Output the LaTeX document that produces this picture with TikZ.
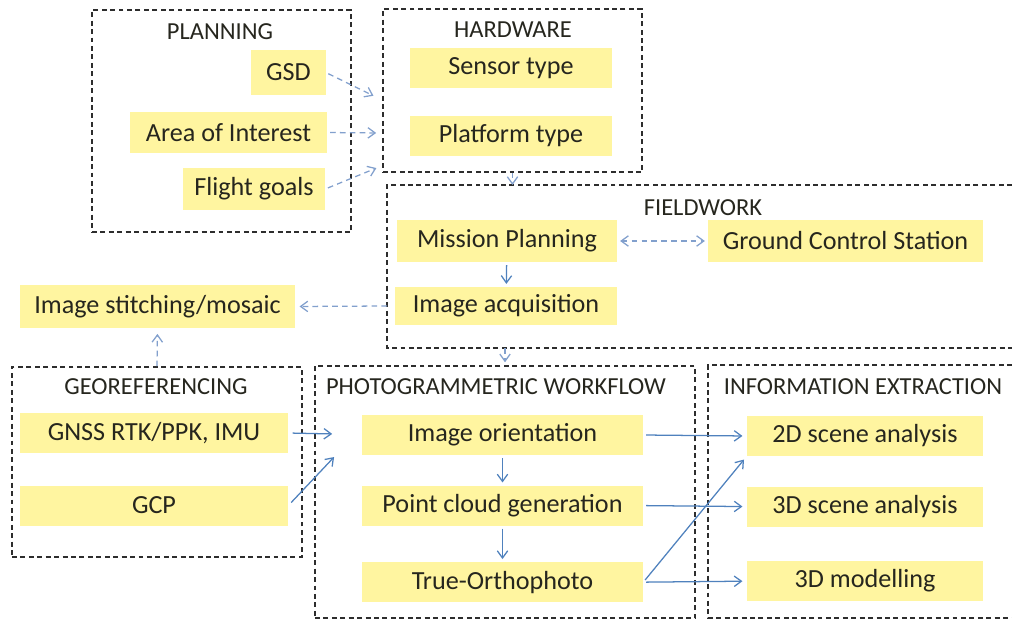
\documentclass[tikz,border=0pt]{standalone}
\usepackage{fontspec}
\setmainfont{Carlito}
\usetikzlibrary{arrows.meta, positioning}

\definecolor{boxyellow}{RGB}{255,245,160}
\definecolor{arrowblue}{RGB}{79,129,189}
\definecolor{dashblue}{RGB}{130,160,205}
\definecolor{textdark}{RGB}{38,38,30}
\definecolor{framegray}{RGB}{45,45,45}

\begin{document}
\begin{tikzpicture}[
		x=0.025cm, y=-0.025cm,
		itembox/.style={rectangle, fill=boxyellow, text=textdark, inner sep=0pt, minimum height=1cm, font=\fontsize{18.6}{22}\selectfont},
		groupbox/.style={rectangle, draw=framegray, line width=1.2pt, dash pattern=on 3.5pt off 2.5pt, inner sep=0pt},
		frame/.style={draw=framegray, line width=1.2pt, dash pattern=on 3.5pt off 2.5pt},
		grouptitle/.style={text=textdark, inner sep=0pt, font=\fontsize{17.4}{20}\selectfont},
		link/.style={->, >={Straight Barb[length=1.8mm, width=2.6mm]}, draw=arrowblue, line width=0.9pt, shorten >=2pt, shorten <=2pt},
		dashed link/.style={link, draw=dashblue, dash pattern=on 4pt off 3pt}
		]
		\useasboundingbox (0,0) rectangle (1012,623);

		% groups
		\node [groupbox, minimum width=6.475cm, minimum height=5.55cm] (planning) at (221.5,121) {};
		\node [groupbox, minimum width=6.475cm, minimum height=4.075cm] (hardware) at (512.5,90.5) {};
		\node [groupbox, minimum width=7.25cm, minimum height=4.75cm] (georeferencing) at (157,462) {};
		\node [groupbox, minimum width=9.5cm, minimum height=6.3cm] (photogrammetry) at (505,492) {};
		\coordinate (fieldwork ne) at (1012,185);
		\coordinate (fieldwork nw) at (387,185);
		\coordinate (fieldwork sw) at (387,348);
		\coordinate (fieldwork se) at (1012,348);
		\draw [frame] (fieldwork ne) -- (fieldwork nw) -- (fieldwork sw) -- (fieldwork se);
		\coordinate (extraction ne) at (1012,365);
		\coordinate (extraction nw) at (708,365);
		\coordinate (extraction sw) at (708,618);
		\coordinate (extraction se) at (1012,618);
		\draw [frame] (extraction ne) -- (extraction nw) -- (extraction sw) -- (extraction se);

		\node [grouptitle] (planning title) at (220,32) {PLANNING};
		\node [grouptitle] (hardware title) at (513,30) {HARDWARE};
		\node [grouptitle] (fieldwork title) at (703,208) {FIELDWORK};
		\node [grouptitle] (georeferencing title) at (156,387) {GEOREFERENCING};
		\node [grouptitle] (photogrammetry title) at (496,387) {PHOTOGRAMMETRIC WORKFLOW};
		\node [grouptitle] (extraction title) at (863,387) {INFORMATION EXTRACTION};

		% items
		\node [itembox, minimum width=1.85cm, minimum height=1.1cm] (gsd) at (288.5,72.5) {GSD};
		\node [itembox, minimum width=4.925cm] (area of interest) at (228.5,132.5) {Area of Interest};
		\node [itembox, minimum width=3.55cm, minimum height=1.05cm] (flight goals) at (254,189) {Flight goals};
		\node [itembox, minimum width=5.05cm] (sensor type) at (511,68) {Sensor type};
		\node [itembox, minimum width=5.05cm, below=0.675cm of sensor type] (platform type) {Platform type};
		\node [itembox, minimum width=5.5cm, minimum height=1.05cm] (mission planning) at (507,241) {Mission Planning};
		\node [itembox, minimum width=6.875cm, minimum height=1.05cm] (ground control) at (845.5,241) {Ground Control Station};
		\node [itembox, minimum width=5.55cm, minimum height=0.95cm] (image acquisition) at (506,306) {Image acquisition};
		\node [itembox, minimum width=6.875cm, minimum height=1.075cm] (image stitching) at (157.5,306.5) {Image stitching/mosaic};
		\node [itembox, minimum width=6.7cm] (gnss) at (154,433) {GNSS RTK/PPK, IMU};
		\node [itembox, minimum width=6.7cm, below=0.8cm of gnss] (gcp) {GCP};
		\node [itembox, minimum width=7.025cm] (image orientation) at (502.5,435) {Image orientation};
		\node [itembox, minimum width=7.025cm, below=0.75cm of image orientation] (point cloud) {Point cloud generation};
		\node [itembox, minimum width=7.025cm, below=0.9cm of point cloud] (true ortho) {True-Orthophoto};
		\node [itembox, minimum width=5.9cm] (scene 2d) at (865,436) {2D scene analysis};
		\node [itembox, minimum width=5.9cm, below=0.75cm of scene 2d] (scene 3d) {3D scene analysis};
		\node [itembox, minimum width=5.9cm, below=0.85cm of scene 3d] (modelling) {3D modelling};

		% connectors
		\coordinate (hardware in high) at (376,97);
		\coordinate (hardware in mid) at (379,133);
		\coordinate (hardware in low) at (379,167);
		\draw [dashed link] (gsd.east) -- (hardware in high);
		\draw [dashed link] (area of interest.east) -- (hardware in mid);
		\draw [dashed link] (flight goals.east) -- (hardware in low);
		\draw [dashed link, shorten <=0pt, shorten >=0pt] (hardware.south) -- (hardware.south |- fieldwork nw);
		\draw [dashed link, <->] (mission planning) -- (ground control);
		\draw [link] (mission planning) -- (image acquisition);
		\draw [dashed link, shorten <=0pt, shorten >=3pt] (fieldwork nw |- image acquisition) -- (image stitching.east);
		\draw [dashed link, shorten <=0pt] (photogrammetry.north |- fieldwork sw) -- (photogrammetry.north);
		\draw [dashed link, shorten <=0pt, shorten >=4pt] (georeferencing.north) -- (image stitching.south);

		\coordinate (workflow in) at (335,434);
		\coordinate (workflow in low) at (336,455);
		\draw [link, shorten <=3pt] (gnss.east) -- (workflow in);
		\draw [link, shorten <=3pt] (gcp.east) -- (workflow in low);
		\draw [link] (image orientation) -- (point cloud);
		\draw [link] (point cloud) -- (true ortho);
		\draw [link, shorten >=3pt] (image orientation.east) -- (scene 2d.west);
		\draw [link, shorten >=3pt] (point cloud.east) -- (scene 3d.west);
		\draw [link, shorten >=3pt] (true ortho.east) -- (modelling.west);
		\draw [link, shorten >=3pt] (true ortho.east) -- (scene 2d.south west);
\end{tikzpicture}
\end{document}
